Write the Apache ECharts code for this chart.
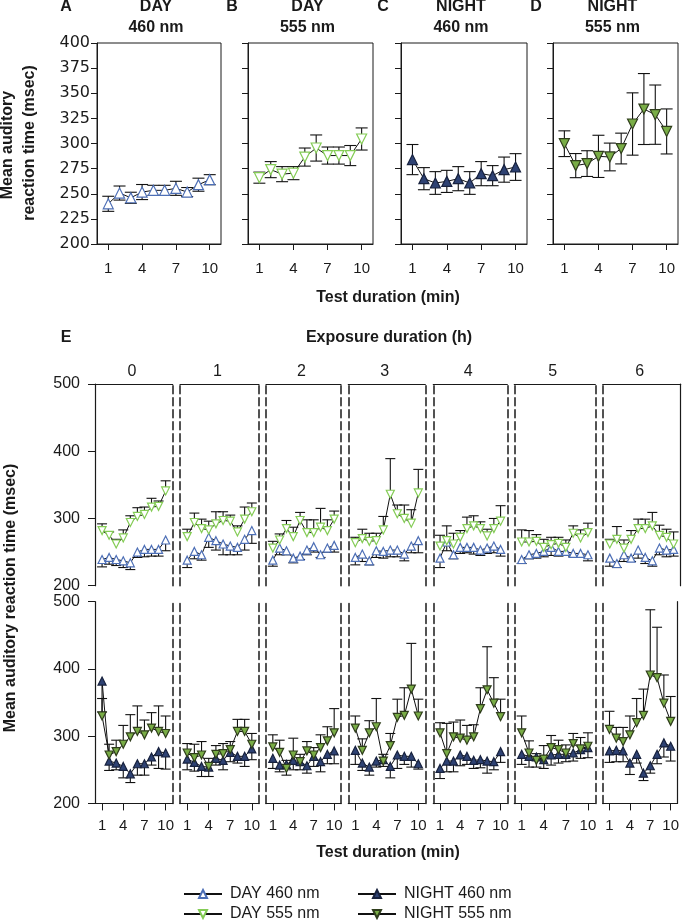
<!DOCTYPE html>
<html><head><meta charset="utf-8">
<script src="https://cdn.jsdelivr.net/npm/echarts@6/dist/echarts.min.js"></script>
<style>html,body{margin:0;padding:0;background:#fff}#c{width:682px;height:920px}</style>
</head><body><div id="c"></div>
<script>
// ---------------- DATA ----------------
const minutes = [1,2,3,4,5,6,7,8,9,10];
const xTickValues = [1,4,7,10];
const exposureHours = ['0','1','2','3','4','5','6'];
const panelTitles = [['A','DAY','460 nm'],['B','DAY','555 nm'],['C','NIGHT','460 nm'],['D','NIGHT','555 nm']];

// Panels A-D (mean, symmetric SEM)
const dayA460Mean = [240, 250.7, 246, 251.7, 253.4, 253.4, 255.4, 251.7, 259, 264];
const dayA460Err  = [7.5, 7, 5.5, 7.5, 5, 5, 7, 4.5, 6.5, 5];
const dayB555Mean = [266, 274, 269.5, 270.5, 286.5, 295.5, 288, 288, 288, 304.5];
const dayB555Err  = [5.5, 8, 7.5, 6.5, 9, 13, 8.5, 8.5, 10, 11];
const nightC460Mean = [284, 265, 260.7, 262.3, 265, 260.7, 270, 268, 274, 276.6];
const nightC460Err  = [15, 11, 11.3, 11, 12, 11.3, 12, 10, 12.5, 13.3];
const nightD555Mean = [299.8, 278, 280, 287.2, 286.6, 295, 319.4, 334.3, 328.7, 312];
const nightD555Err  = [12.8, 12, 12.8, 21, 13.8, 15.3, 31, 35.3, 29.5, 22.4];

// Panel E, by exposure hour 0..6
const eDay460Mean = [
  [239, 242, 239, 237, 234, 250, 254, 254, 254, 268],
  [238, 251, 246, 272, 267, 262, 259, 257, 269, 282],
  [238, 256, 252, 241, 244, 253, 258, 246, 256, 260],
  [242, 247, 237, 252, 251, 253, 253, 247, 259, 267],
  [241, 265, 246, 257, 257, 257, 253, 256, 259, 254],
  [239, 246, 248, 251, 257, 251, 251, 248, 248, 246],
  [241, 233, 246, 241, 253, 242, 237, 256, 253, 254]];
const eDay460Err = [
  [11, 10, 9, 10, 10, 8, 11, 10, 10, 16],
  [11, 11, 8, 15, 14, 16, 13, 11, 16, 19],
  [9, 10, 6, 7, 5, 7, 8, 4, 6, 10],
  [11, 11, 6, 10, 10, 10, 10, 10, 10, 18],
  [14, 13, 6, 9, 8, 10, 8, 8, 10, 10],
  [6, 6, 7, 8, 12, 7, 6, 5, 4, 9],
  [12, 6, 10, 5, 12, 9, 8, 10, 10, 10]];
const eDay555Mean = [
  [282, 275, 262, 271, 294, 303, 306, 317, 318, 341],
  [273, 294, 285, 283, 292, 297, 296, 280, 299, 310],
  [256, 268, 285, 273, 297, 279, 279, 287, 282, 299],
  [264, 270, 266, 267, 283, 336, 307, 300, 293, 338],
  [259, 267, 262, 272, 285, 289, 285, 274, 285, 296],
  [265, 265, 266, 257, 261, 263, 257, 278, 271, 279],
  [262, 269, 256, 269, 285, 285, 289, 275, 272, 262]];
const eDay555Err = [
  [10, 5, 7, 12, 10, 13, 11, 13, 8, 15],
  [11, 14, 14, 13, 18, 13, 9, 9, 18, 13],
  [10, 9, 12, 14, 12, 19, 19, 28, 16, 12],
  [8, 14, 12, 11, 20, 53, 13, 20, 20, 35],
  [16, 22, 16, 10, 17, 15, 10, 10, 15, 23],
  [18, 17, 10, 12, 11, 9, 11, 11, 12, 14],
  [7, 19, 12, 13, 14, 14, 20, 15, 12, 18]];
const eNight460Mean = [
  [382, 263, 260, 255, 244, 259, 259, 269, 277, 275],
  [266, 261, 255, 254, 267, 264, 276, 270, 270, 281],
  [267, 257, 258, 264, 262, 256, 270, 262, 273, 278],
  [279, 260, 254, 263, 265, 255, 272, 270, 270, 259],
  [252, 263, 263, 272, 270, 264, 265, 263, 262, 277],
  [273, 270, 269, 265, 272, 273, 273, 275, 280, 283],
  [278, 279, 278, 260, 273, 245, 256, 273, 290, 285]];
const eNight460Err = [
  [46, 14, 10, 17, 13, 17, 17, 12, 25, 24],
  [16, 13, 15, 14, 10, 14, 14, 10, 15, 16],
  [15, 10, 16, 14, 12, 11, 15, 15, 14, 19],
  [21, 11, 12, 9, 10, 17, 20, 12, 16, 8],
  [15, 16, 16, 16, 12, 12, 12, 18, 12, 16],
  [15, 16, 15, 13, 15, 13, 11, 12, 13, 15],
  [17, 17, 16, 17, 13, 11, 11, 14, 21, 22]];
const eNight555Mean = [
  [330, 272, 277, 288, 299, 307, 302, 312, 307, 304],
  [275, 268, 272, 255, 273, 274, 280, 307, 307, 288],
  [284, 276, 252, 272, 262, 278, 272, 283, 293, 305],
  [312, 279, 305, 314, 263, 286, 328, 331, 370, 330],
  [305, 274, 299, 297, 294, 299, 341, 369, 349, 329],
  [305, 275, 264, 266, 283, 280, 275, 289, 281, 285],
  [310, 297, 292, 302, 320, 331, 391, 387, 349, 322]];
const eNight555Err = [
  [26, 16, 17, 28, 33, 38, 22, 23, 38, 26],
  [14, 20, 20, 12, 13, 15, 12, 18, 18, 16],
  [18, 18, 12, 25, 11, 14, 11, 19, 21, 36],
  [18, 17, 18, 42, 10, 18, 27, 41, 68, 25],
  [15, 45, 22, 27, 22, 18, 31, 64, 38, 26],
  [25, 18, 10, 20, 18, 14, 12, 15, 17, 20],
  [27, 16, 21, 28, 36, 39, 97, 75, 42, 37]];

// ---------------- STYLE / LAYOUT ----------------
const FONT = '"Liberation Sans", Arial, Helvetica, sans-serif';
const TXT = '#1a1a1a';
const STY = {
  'DAY 460 nm':   {rot:0,   fill:'#ffffff', border:'#4d6fb6'},
  'DAY 555 nm':   {rot:180, fill:'#ffffff', border:'#84cc55'},
  'NIGHT 460 nm': {rot:0,   fill:'#2e4273', border:'#17213d'},
  'NIGHT 555 nm': {rot:180, fill:'#79ad46', border:'#2f3d1c'}
};
const topLayout = [{l:97,w:124},{l:248,w:125},{l:401,w:126},{l:553,w:125}];
const topTop = 43, topH = 201;
const eLefts  = [95, 180, 266, 348.3, 433.3, 514.3, 602.7];
const eRights = [172.7, 259, 341, 425.3, 507.3, 595.3, 680.7];
const eRowTop = [384, 601.7], eRowH = 201.7;
const DASH = [8, 4];

const grid = [], xAxis = [], yAxis = [], series = [];

function lineSeries(name, xi, yi, means, size){
  const s = STY[name];
  return {type:'line', name, xAxisIndex:xi, yAxisIndex:yi, z:4, animation:false,
    data: means.map((m,i)=>[minutes[i], m]),
    symbol:'triangle', symbolRotate:s.rot, symbolSize:size,
    lineStyle:{color:'#111', width:1},
    itemStyle:{color:s.fill, borderColor:s.border, borderWidth:1.2}};
}
function errSeries(xi, yi, means, errs, mode, half){
  return {type:'custom', name:'err', xAxisIndex:xi, yAxisIndex:yi, z:3, silent:true, animation:false,
    encode:{x:0, y:1},
    data: means.map((m,i)=>[minutes[i], m, errs[i]]),
    renderItem(params, api){
      const x = api.value(0), m = api.value(1), e = api.value(2);
      const lo = mode==='up' ? m : m - e, hi = mode==='down' ? m : m + e;
      const p0 = api.coord([x, lo]), p1 = api.coord([x, hi]);
      const st = {stroke:'#111', lineWidth:1.1};
      const ch = [{type:'line', shape:{x1:p0[0],y1:p0[1],x2:p1[0],y2:p1[1]}, style:st}];
      if (mode !== 'up') ch.push({type:'line', shape:{x1:p0[0]-half,y1:p0[1],x2:p0[0]+half,y2:p0[1]}, style:st});
      if (mode !== 'down') ch.push({type:'line', shape:{x1:p1[0]-half,y1:p1[1],x2:p1[0]+half,y2:p1[1]}, style:st});
      return {type:'group', children:ch};
    }};
}

// Top panels A-D
const topMeans = [dayA460Mean, dayB555Mean, nightC460Mean, nightD555Mean];
const topErrs  = [dayA460Err, dayB555Err, nightC460Err, nightD555Err];
const topNames = ['DAY 460 nm','DAY 555 nm','NIGHT 460 nm','NIGHT 555 nm'];
topLayout.forEach((g, i) => {
  grid.push({left:g.l, top:topTop, width:g.w, height:topH, show:true, borderColor:TXT, borderWidth:1, backgroundColor:'transparent'});
  xAxis.push({gridIndex:i, type:'value', min:0, max:11,
    axisLine:{show:true, onZero:false, lineStyle:{color:TXT, width:1}},
    axisTick:{show:true, customValues:xTickValues, length:6, lineStyle:{color:TXT}},
    axisLabel:{show:true, customValues:xTickValues, fontSize:15, color:TXT, fontFamily:FONT, margin:17},
    splitLine:{show:false}});
  const yi = yAxis.length;
  yAxis.push({gridIndex:i, type:'value', min:200, max:400, interval:25,
    axisLine:{show:true, onZero:false, lineStyle:{color:TXT, width:1}},
    axisTick:{show:true, length:6, lineStyle:{color:TXT}},
    axisLabel:{show:i===0, fontSize:16, color:TXT, fontFamily:'"DejaVu Sans", sans-serif', margin:7},
    splitLine:{show:false}});
  series.push(errSeries(i, yi, topMeans[i], topErrs[i], 'both', 6));
  series.push(lineSeries(topNames[i], i, yi, topMeans[i], 10));
});

// Panel E: 7 exposure panels x 2 rows
for (let row = 0; row < 2; row++) {
  for (let p = 0; p < 7; p++) {
    const gi = grid.length;
    const left = eLefts[p], width = eRights[p] - eLefts[p];
    grid.push({left, top:eRowTop[row], width, height:eRowH});
    xAxis.push({gridIndex:gi, type:'value', min:0, max:11, position: row===0 ? 'top' : 'bottom',
      axisLine:{show:true, onZero:false, lineStyle:{color:TXT, width:1.2}},
      axisTick:{show:row===1, customValues:xTickValues, length:7, lineStyle:{color:TXT}},
      axisLabel:{show:row===1, customValues:xTickValues, fontSize:15, color:TXT, fontFamily:FONT, margin:15},
      splitLine:{show:false}});
    const yi = yAxis.length;
    yAxis.push({gridIndex:gi, type:'value', min:200, max:500, interval:100, position:'left',
      axisLine:{show:true, onZero:false, lineStyle:{color:TXT, width: p===0 ? 1.2 : 1.5, type: p===0 ? 'solid' : DASH}},
      axisTick:{show:p===0, length:7, lineStyle:{color:TXT}},
      axisLabel:{show:p===0, fontSize:16, color:TXT, fontFamily:FONT, margin:15},
      splitLine:{show:false}});
    yAxis.push({gridIndex:gi, type:'value', min:200, max:500, interval:100, position:'right',
      axisLine:{show:true, onZero:false, lineStyle:{color:TXT, width: p===6 ? 1.2 : 1.5, type: p===6 ? 'solid' : DASH}},
      axisTick:{show:false}, axisLabel:{show:false}, splitLine:{show:false}});
    if (row === 0) {
      series.push(errSeries(gi, yi, eDay460Mean[p], eDay460Err[p], 'down', 5));
      series.push(errSeries(gi, yi, eDay555Mean[p], eDay555Err[p], 'up', 5));
      series.push(lineSeries('DAY 460 nm', gi, yi, eDay460Mean[p], 8));
      series.push(lineSeries('DAY 555 nm', gi, yi, eDay555Mean[p], 8));
    } else {
      series.push(errSeries(gi, yi, eNight460Mean[p], eNight460Err[p], 'down', 5));
      series.push(errSeries(gi, yi, eNight555Mean[p], eNight555Err[p], 'up', 5));
      series.push(lineSeries('NIGHT 460 nm', gi, yi, eNight460Mean[p], 8));
      series.push(lineSeries('NIGHT 555 nm', gi, yi, eNight555Mean[p], 8));
    }
  }
}

// Text
const graphic = [];
function txt(text, x, y, opt = {}) {
  graphic.push({type:'text', x, y, rotation: opt.rot || 0, silent:true,
    style:{text, fill:TXT, fontFamily:FONT, fontSize: opt.size || 16, fontWeight: opt.bold ? 'bold' : 'normal',
      align: opt.align || 'center', verticalAlign:'middle'}});
}
const letterX = [66, 232, 383, 536];
topLayout.forEach((g, i) => {
  const cx = g.l + g.w / 2 - 3;
  txt(panelTitles[i][0], letterX[i], 7, {bold:true});
  txt(panelTitles[i][1], cx, 7, {bold:true});
  txt(panelTitles[i][2], cx, 28, {bold:true});
});
txt('Mean auditory', 8, 145, {bold:true, rot:Math.PI/2});
txt('reaction time (msec)', 30, 143, {bold:true, rot:Math.PI/2});
txt('Test duration (min)', 388, 298, {bold:true});
txt('E', 66, 338, {bold:true});
txt('Exposure duration (h)', 389, 338, {bold:true});
exposureHours.forEach((h, p) => txt(h, (eLefts[p] + eRights[p]) / 2 - 2, 371.5, {}));
txt('Mean auditory reaction time (msec)', 11, 598, {bold:true, rot:Math.PI/2});
txt('Test duration (min)', 388, 853, {bold:true});

const legendBase = {orient:'vertical', itemWidth:38, itemHeight:10, itemGap:4, padding:0, height:60,
  textStyle:{fontSize:16, color:TXT, fontFamily:FONT, padding:[0,0,0,3]}, selectedMode:false};
const option = {
  animation:false, backgroundColor:'#fff',
  grid, xAxis, yAxis, series, graphic,
  legend:[
    Object.assign({}, legendBase, {left:183, top:886, data:['DAY 460 nm','DAY 555 nm']}),
    Object.assign({}, legendBase, {left:357, top:886, data:['NIGHT 460 nm','NIGHT 555 nm']})
  ]
};
const chart = echarts.init(document.getElementById('c'), null, {renderer:'canvas'});
chart.setOption(option);
</script></body></html>
